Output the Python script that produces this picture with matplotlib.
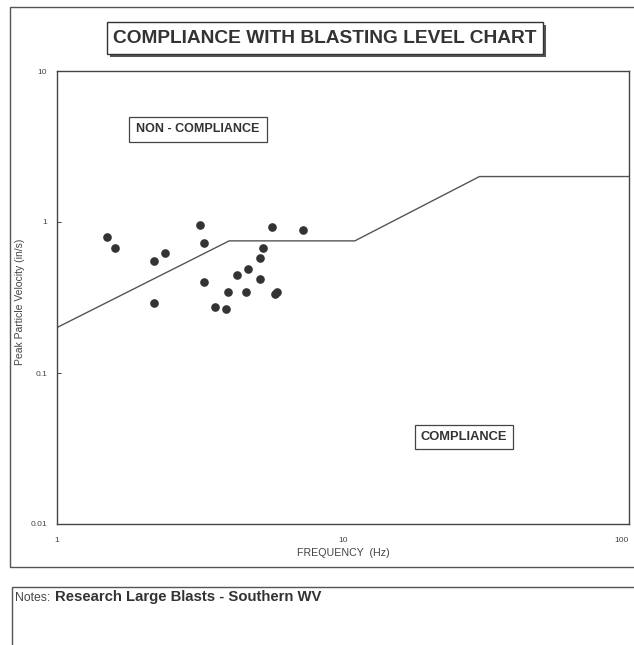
import matplotlib
matplotlib.use("Agg")
import matplotlib.pyplot as plt
from matplotlib.patches import Rectangle
from matplotlib.ticker import FixedLocator, FixedFormatter, NullLocator

plt.rcParams['font.family'] = ['Liberation Sans', 'DejaVu Sans']

# Data
freq_hz = [1.49, 1.60, 2.19, 2.39, 2.19, 3.17, 3.27, 3.27, 3.57, 3.89, 3.97,
           4.26, 4.57, 4.66, 5.13, 5.13, 5.27, 5.66, 5.79, 5.89, 7.25]
ppv_ins = [0.79, 0.67, 0.55, 0.62, 0.29, 0.955, 0.73, 0.40, 0.275, 0.265, 0.344,
           0.448, 0.344, 0.488, 0.419, 0.58, 0.676, 0.927, 0.332, 0.342, 0.889]
limit_freq = [1, 4, 11, 30, 100]
limit_ppv = [0.2, 0.75, 0.75, 2.0, 2.0]
x_ticks = [1, 10, 100]
x_tick_labels = ["1", "10", "100"]
y_ticks = [0.01, 0.1, 1, 10]
y_tick_labels = ["0.01", "0.1", "1", "10"]

W, H = 634, 645
fig = plt.figure(figsize=(W / 100, H / 100), dpi=100)
fig.patch.set_facecolor("white")


def fig_rect(x0, y0, x1, y1, **kw):
    r = Rectangle((x0 / W, 1 - y1 / H), (x1 - x0) / W, (y1 - y0) / H,
                  transform=fig.transFigure, **kw)
    fig.patches.append(r)
    return r

edge = "#555555"
# outer chart frame
fig_rect(10, 7, 640, 567, fill=False, edgecolor=edge, linewidth=1.0)
# notes frame
fig_rect(12, 587, 640, 660, fill=False, edgecolor=edge, linewidth=1.0)
# title box with shadow
fig_rect(110, 25, 546, 57, facecolor="#555555", edgecolor="none")
fig_rect(107, 22, 543, 54, facecolor="white", edgecolor="#333333", linewidth=1.0)
fig.text((107 + 543) / 2 / W, 1 - 38.5 / H, "COMPLIANCE WITH BLASTING LEVEL CHART",
         ha="center", va="center", fontsize=13.8, fontweight="bold", color="#333333")

ax = fig.add_axes([57 / W, 1 - 524 / H, (629 - 57) / W, (524 - 71) / H])
ax.set_xscale("log")
ax.set_yscale("log")
ax.set_xlim(1, 100)
ax.set_ylim(0.01, 10)

ax.plot(limit_freq, limit_ppv, color="#555555", linewidth=1.0)
ax.plot(freq_hz, ppv_ins, linestyle="none", marker="o", markersize=5.2,
        color="#333333")

ax.xaxis.set_major_locator(FixedLocator(x_ticks))
ax.xaxis.set_major_formatter(FixedFormatter(x_tick_labels))
ax.yaxis.set_major_locator(FixedLocator(y_ticks))
ax.yaxis.set_major_formatter(FixedFormatter(y_tick_labels))
ax.xaxis.set_minor_locator(NullLocator())
ax.yaxis.set_minor_locator(NullLocator())
ax.tick_params(axis="both", which="major", labelsize=6, colors="#444444",
               length=3, width=0.7, direction="in")
ax.tick_params(axis="x", pad=9, length=0)
ax.tick_params(axis="y", pad=7)
for s in ax.spines.values():
    s.set_color("#444444")
    s.set_linewidth(1.0)

# keep the last x tick label inside the figure
fig.canvas.draw()
xlabels = ax.get_xticklabels()
xlabels[-1].set_horizontalalignment("right")

ax.set_xlabel("FREQUENCY  (Hz)", fontsize=7.7, color="#444444", labelpad=3)
ax.set_ylabel("Peak Particle Velocity (in/s)", fontsize=7.5, color="#444444",
              labelpad=0)
ax.yaxis.set_label_coords((25 - 57) / (629 - 57), 0.49)

ax.text(0.2465, 0.871, "NON - COMPLIANCE", transform=ax.transAxes, ha="center",
        va="center", fontsize=9, fontweight="bold", color="#333333",
        bbox=dict(boxstyle="square,pad=0.55", facecolor="white",
                  edgecolor="#444444", linewidth=0.9))
ax.text(0.7115, 0.192, "COMPLIANCE", transform=ax.transAxes, ha="center",
        va="center", fontsize=9.3, fontweight="bold", color="#333333",
        bbox=dict(boxstyle="square,pad=0.45", facecolor="white",
                  edgecolor="#444444", linewidth=0.9))

fig.text(15 / W, 1 - 598 / H, "Notes: ", ha="left", va="center", fontsize=8.8,
         color="#444444")
fig.text(55 / W, 1 - 597 / H, "Research Large Blasts - Southern WV", ha="left",
         va="center", fontsize=10.7, fontweight="bold", color="#333333")

fig.savefig("out.png", dpi=100, facecolor="white")
